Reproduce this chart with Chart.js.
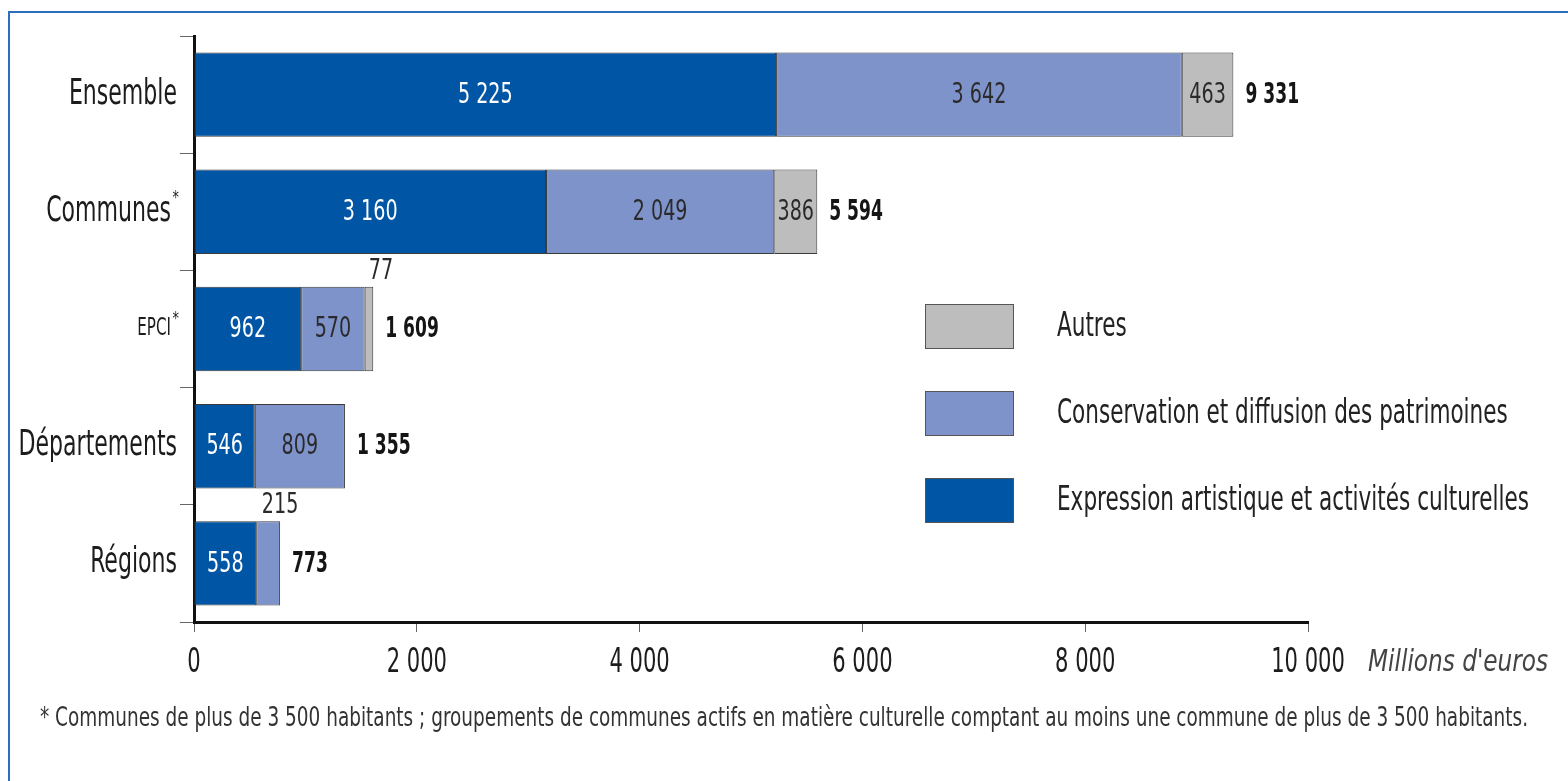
<!DOCTYPE html>
<html>
<head>
<meta charset="utf-8">
<script src="https://cdn.jsdelivr.net/npm/chart.js@4.4.0/dist/chart.umd.min.js"></script>
<style>
  html, body { margin: 0; padding: 0; background: #fff; }
  #wrap { position: relative; width: 1568px; height: 781px; overflow: hidden; }
  #frame { position: absolute; left: 8px; top: 11px; width: 1600px; height: 800px;
           border-left: 2px solid #2b6fbe; border-top: 2px solid #2b6fbe; }
  canvas { position: absolute; left: 0; top: 0; }
</style>
</head>
<body>
<div id="wrap">
  <div id="frame"></div>
  <canvas id="c" width="1568" height="781"></canvas>
</div>
<script>
const categories = ['Ensemble', 'Communes*', 'EPCI*', 'Départements', 'Régions'];
const expression = [5225, 3160, 962, 546, 558];
const conservation = [3642, 2049, 570, 809, 215];
const autres = [463, 386, 77, 0, 0];
const totals = [9331, 5594, 1609, 1355, 773];
const seriesNames = ['Expression artistique et activités culturelles', 'Conservation et diffusion des patrimoines', 'Autres'];
const xTicks = [0, 2000, 4000, 6000, 8000, 10000];
const unitLabel = "Millions d'euros";
const footnote = "* Communes de plus de 3 500 habitants ; groupements de communes actifs en matière culturelle comptant au moins une commune de plus de 3 500 habitants.";

const FONT = '"DejaVu Sans Condensed", "DejaVu Sans", sans-serif';
const COLORS = ['#0055a4', '#7f93cb', '#bdbdbd'];
const TEXTCOL = ['#ffffff', '#2a2a2a', '#2a2a2a'];
const SX = 0.7;

function fmt(n) { return String(n).replace(/\B(?=(\d{3})+(?!\d))/g, ' '); }

function setFont(ctx, o) {
  ctx.font = `${o.style || 'normal'} ${o.weight || 'normal'} ${o.size}px ${FONT}`;
}
function measure(ctx, s, o) {
  ctx.save(); setFont(ctx, o);
  const w = ctx.measureText(s).width * (o.sx || SX);
  ctx.restore(); return w;
}
function txt(ctx, s, x, y, o) {
  ctx.save();
  setFont(ctx, o);
  ctx.fillStyle = o.color || '#222';
  ctx.textAlign = o.align || 'left';
  ctx.textBaseline = 'middle';
  ctx.translate(x, y);
  ctx.scale(o.sx || SX, 1);
  ctx.fillText(s, 0, 0);
  ctx.restore();
}

const labelPlugin = {
  id: 'labels',
  afterDatasetsDraw(chart) {
    const ctx = chart.ctx;
    const xs = chart.scales.x, ys = chart.scales.y;
    const area = chart.chartArea;
    // segment values
    const segFont = { size: 28, sx: 0.76 };
    chart.data.datasets.forEach((ds, di) => {
      const meta = chart.getDatasetMeta(di);
      meta.data.forEach((bar, i) => {
        const v = ds.data[i];
        if (!v) return;
        const t = fmt(v);
        const left = bar.base, right = bar.x;
        const w = right - left;
        const tw = measure(ctx, t, segFont);
        const cx = (left + right) / 2;
        if (w >= tw + 4) {
          txt(ctx, t, cx, bar.y + 1, Object.assign({ color: TEXTCOL[di], align: 'center' }, segFont));
        } else {
          txt(ctx, t, cx + 12, bar.y - bar.height / 2 - 15, Object.assign({ color: '#2a2a2a', align: 'center' }, segFont));
        }
      });
    });
    // totals
    const meta0 = chart.getDatasetMeta(0);
    totals.forEach((tot, i) => {
      txt(ctx, fmt(tot), xs.getPixelForValue(tot) + 12, meta0.data[i].y + 1,
          { size: 28, weight: 'bold', sx: 0.68, color: '#151515' });
    });
    // category labels
    categories.forEach((lab, i) => {
      const y = ys.getPixelForTick(i);
      const small = i === 2;
      const size = small ? 24 : 35;
      const rx = area.left - 17;
      if (lab.endsWith('*')) {
        const base = lab.slice(0, -1);
        txt(ctx, '*', rx + 2, y - (small ? 10 : 13), { size: 18, sx: 0.8, align: 'right', color: '#1c1c1c' });
        txt(ctx, base, rx - 6, y, { size, sx: SX, align: 'right', color: '#1c1c1c' });
      } else {
        txt(ctx, lab, rx, y, { size, sx: SX, align: 'right', color: '#1c1c1c' });
      }
    });
    // x tick labels
    xs.ticks.forEach(t => {
      txt(ctx, fmt(t.value), xs.getPixelForValue(t.value), area.bottom + 41,
          { size: 33, sx: 0.71, align: 'center', color: '#1c1c1c' });
    });
    // unit label
    txt(ctx, unitLabel, area.right + 60, area.bottom + 41,
        { size: 30, style: 'italic', sx: 0.86, color: '#444' });
    // legend
    const order = [2, 1, 0];
    const lx = area.right - 383, ly = area.top + 268, gap = 87;
    order.forEach((di, k) => {
      const y = ly + k * gap;
      ctx.save();
      ctx.fillStyle = COLORS[di];
      ctx.fillRect(lx, y, 89, 45);
      ctx.strokeStyle = '#555';
      ctx.lineWidth = 1;
      ctx.strokeRect(lx + 0.5, y + 0.5, 88, 44);
      ctx.restore();
      txt(ctx, seriesNames[di], lx + 132, y + 23, { size: 34, sx: 0.705, color: '#222' });
    });
    // footnote fitted to its width
    const fnO = { size: 26, color: '#333' };
    const natural = measure(ctx, footnote, Object.assign({ sx: 1 }, fnO));
    fnO.sx = 1488 / natural;
    txt(ctx, footnote, 40, area.bottom + 97, fnO);
  }
};

new Chart(document.getElementById('c'), {
  type: 'bar',
  data: {
    labels: categories,
    datasets: [
      { label: seriesNames[0], data: expression, backgroundColor: COLORS[0] },
      { label: seriesNames[1], data: conservation, backgroundColor: COLORS[1] },
      { label: seriesNames[2], data: autres, backgroundColor: COLORS[2] }
    ].map(d => Object.assign(d, { borderColor: '#3a3a3a', borderWidth: 1, borderSkipped: false,
                                   categoryPercentage: 1, barPercentage: 0.72 }))
  },
  options: {
    indexAxis: 'y',
    responsive: false,
    animation: false,
    devicePixelRatio: 1,
    layout: { padding: { left: 0, right: 260, top: 36, bottom: 99 } },
    plugins: { legend: { display: false }, tooltip: { enabled: false } },
    scales: {
      x: {
        stacked: true, min: 0, max: 10000,
        afterBuildTicks: s => { s.ticks = xTicks.map(v => ({ value: v })); },
        afterFit: s => { s.height = 60; },
        grid: { drawOnChartArea: false, tickLength: 10, color: '#666', lineWidth: 1 },
        border: { color: '#111', width: 3 },
        ticks: { display: false, callback: v => fmt(v) }
      },
      y: {
        stacked: true,
        afterFit: s => { s.width = 194; },
        grid: { drawOnChartArea: false, tickLength: 14, color: '#666', lineWidth: 1, offset: true },
        border: { color: '#111', width: 3 },
        ticks: { display: false }
      }
    }
  },
  plugins: [labelPlugin]
});
</script>
</body>
</html>
